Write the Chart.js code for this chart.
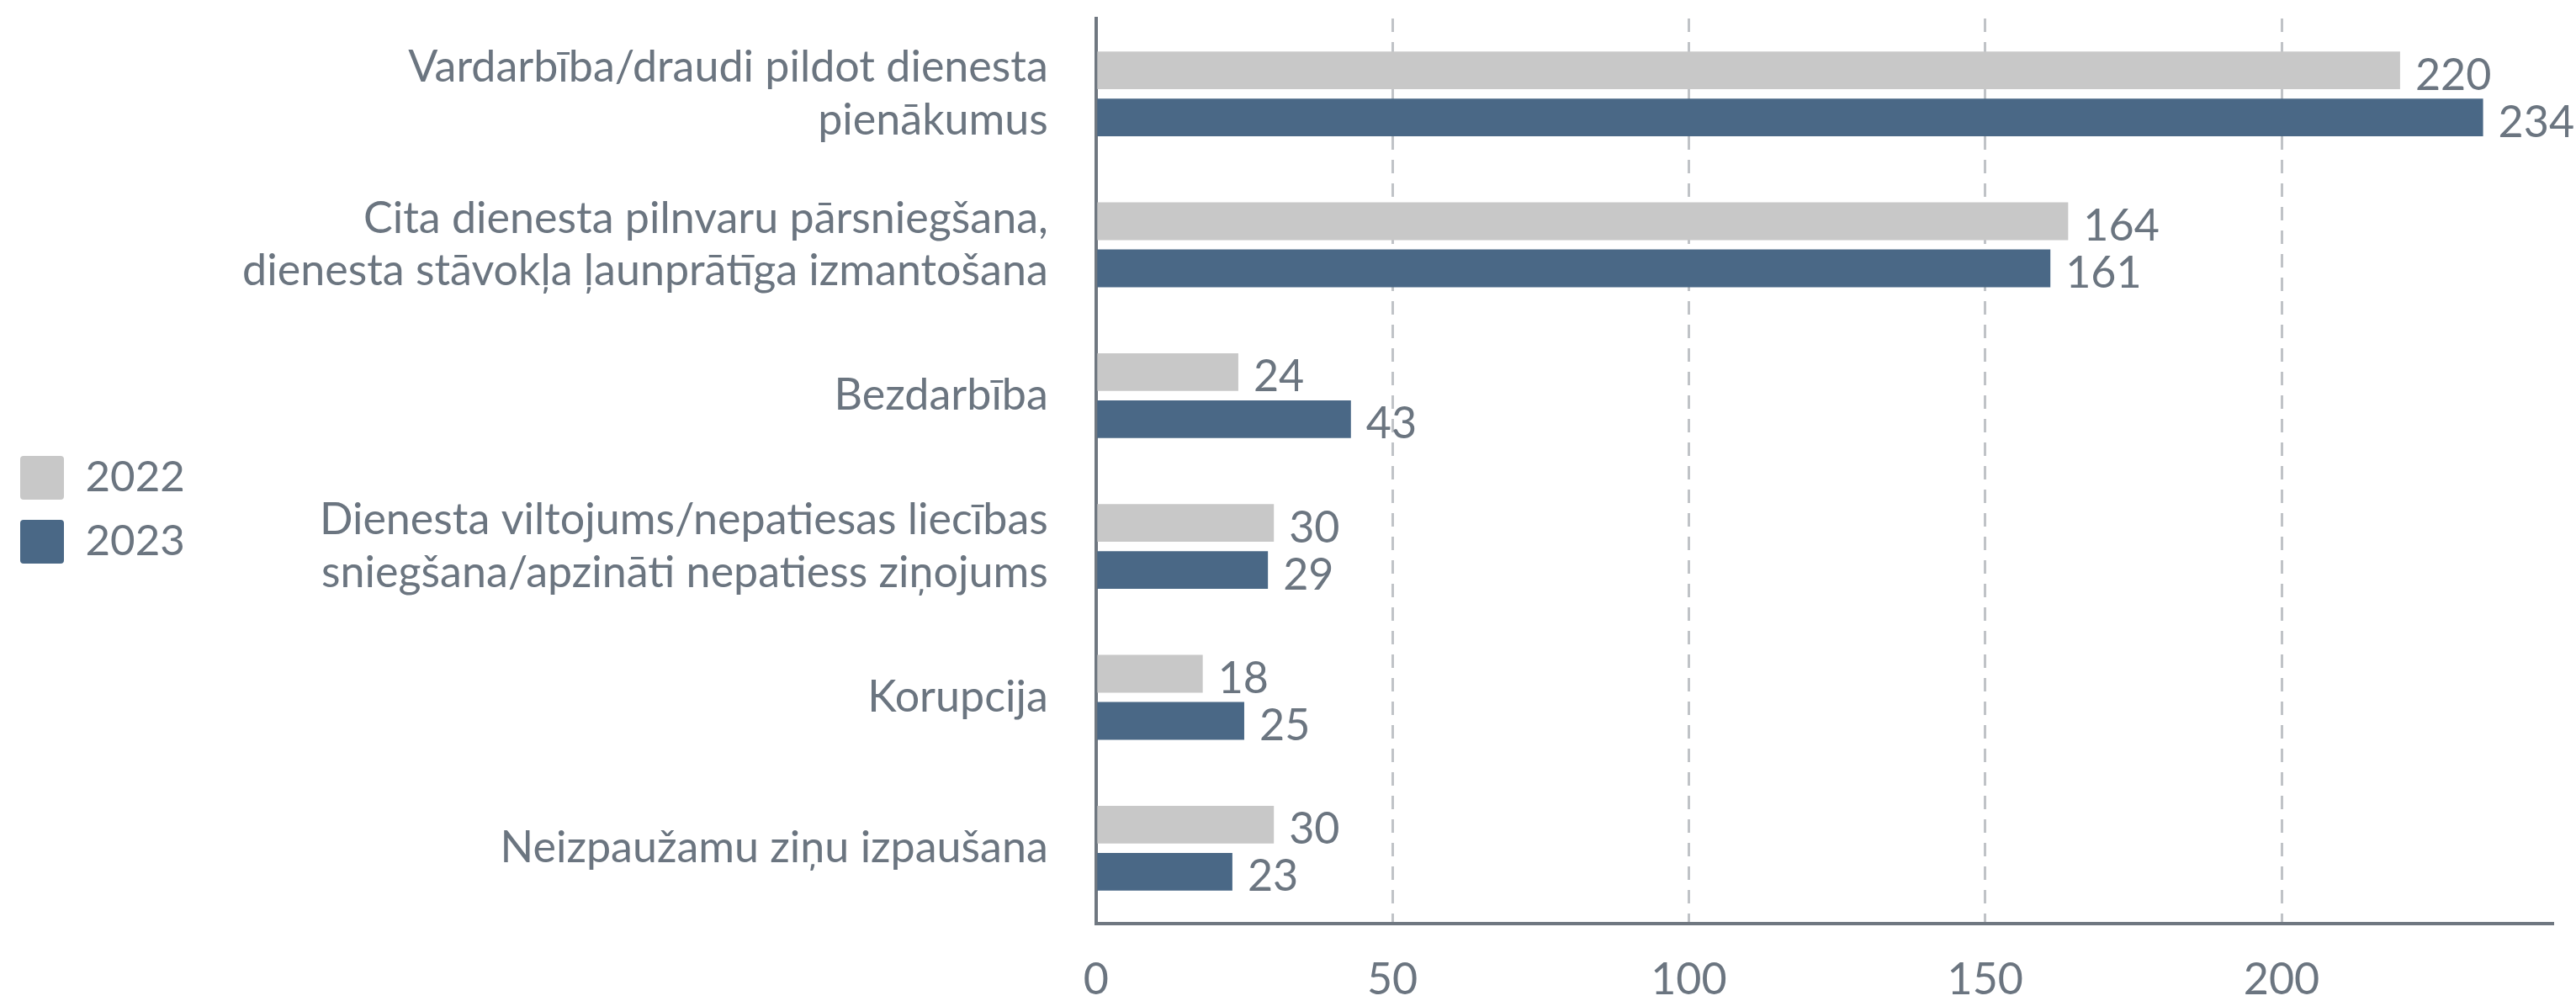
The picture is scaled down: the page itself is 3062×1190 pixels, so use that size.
<!DOCTYPE html>
<html>
<head>
<meta charset="utf-8">
<script src="https://cdn.jsdelivr.net/npm/chart.js@4"></script>
<style>
  html, body { margin: 0; padding: 0; background: #fff; }
  #wrap { width: 3062px; height: 1190px; }
</style>
</head>
<body>
<div id="wrap"><canvas id="myChart" width="3062" height="1190"></canvas></div>
<script>
var categories = [
  ["Vardarbība/draudi pildot dienesta", "pienākumus"],
  ["Cita dienesta pilnvaru pārsniegšana,", "dienesta stāvokļa ļaunprātīga izmantošana"],
  "Bezdarbība",
  ["Dienesta viltojums/nepatiesas liecības", "sniegšana/apzināti nepatiess ziņojums"],
  "Korupcija",
  "Neizpaužamu ziņu izpaušana"
];
var seriesNames = ["2022", "2023"];
var values2022 = [220, 164, 24, 30, 18, 30];
var values2023 = [234, 161, 43, 29, 25, 23];
var xTicks = [0, 50, 100, 150, 200];

var textColor = "#6b7580";
var fontFamily = "Lato, 'Noto Sans', sans-serif";

// value labels at the end of each bar
var barLabels = {
  id: "barLabels",
  afterDatasetsDraw: function (chart) {
    var ctx = chart.ctx;
    ctx.save();
    ctx.font = "52px " + fontFamily;
    ctx.fillStyle = textColor;
    ctx.textAlign = "left";
    ctx.textBaseline = "alphabetic";
    chart.data.datasets.forEach(function (ds, i) {
      chart.getDatasetMeta(i).data.forEach(function (bar, j) {
        ctx.fillText(String(ds.data[j]), bar.x + 18, bar.y + 23);
      });
    });
    ctx.restore();
  }
};

new Chart("myChart", {
  type: "bar",
  data: {
    labels: categories,
    datasets: [{
      label: seriesNames[0],
      data: values2022,
      backgroundColor: "#c8c8c8",
      categoryPercentage: 0.625,
      barPercentage: 0.8
    }, {
      label: seriesNames[1],
      data: values2023,
      backgroundColor: "#4a6886",
      categoryPercentage: 0.625,
      barPercentage: 0.8
    }]
  },
  options: {
    indexAxis: "y",
    responsive: false,
    animation: false,
    layout: { padding: { top: 22, right: 28 } },
    plugins: {
      legend: {
        position: "left",
        labels: {
          boxWidth: 52,
          boxHeight: 52,
          padding: 24,
          color: textColor,
          font: { family: fontFamily, size: 51 },
          generateLabels: function (chart) {
            return chart.data.datasets.map(function (ds, i) {
              return {
                text: ds.label,
                fillStyle: ds.backgroundColor,
                strokeStyle: ds.backgroundColor,
                lineWidth: 0,
                borderRadius: 4,
                fontColor: textColor,
                datasetIndex: i
              };
            });
          }
        }
      },
      tooltip: { enabled: false }
    },
    scales: {
      x: {
        min: 0,
        max: 245.7,
        afterBuildTicks: function (scale) {
          scale.ticks = xTicks.map(function (v) { return { value: v }; });
        },
        afterFit: function (scale) {
          scale.height = 92;
          scale.paddingLeft = 0;
          scale.paddingRight = 0;
        },
        ticks: {
          color: textColor,
          font: { family: fontFamily, size: 52 },
          padding: 36
        },
        grid: {
          color: "#c0c3c7",
          lineWidth: 3,
          drawTicks: false
        },
        border: {
          display: true,
          color: "#6f7780",
          width: 4,
          dash: [16, 12]
        }
      },
      y: {
        afterFit: function (scale) {
          scale.width = 1073;
          scale.paddingTop = 0;
          scale.paddingBottom = 0;
        },
        ticks: {
          color: textColor,
          font: { family: fontFamily, size: 52, lineHeight: 1.2 },
          padding: 57
        },
        grid: { display: false, drawTicks: false },
        border: { display: true, color: "#6f7780", width: 4 }
      }
    }
  },
  plugins: [barLabels]
});
</script>
</body>
</html>
